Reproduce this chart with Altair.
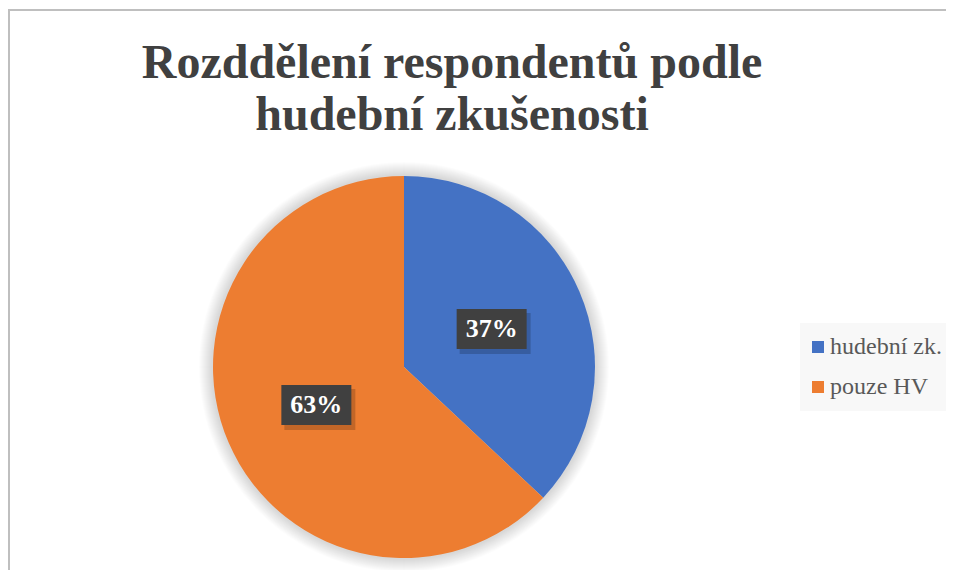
import altair as alt
import pandas as pd

categories = ["hudební zk.", "pouze HV"]
values = [37, 63]
colors = ["#4472C4", "#ED7D31"]
title_lines = ["Rozddělení respondentů podle", "hudební zkušenosti"]

SERIF = "'Liberation Serif', 'Times New Roman', Times, serif"

df = pd.DataFrame({"kategorie": categories, "hodnota": values, "poradi": [0, 1]})

PAD_TOP = 150
CX, CY, R = 396, 209, 191
LR = 95.5
one = alt.Data(values=[{"k": 0}])

# frame
frame = alt.Chart(one).mark_rect(fill=None, stroke="#bfbfbf", strokeWidth=2).encode(
    x=alt.value(1), x2=alt.value(1200), y=alt.value(2 - PAD_TOP), y2=alt.value(1200)
)

# soft glow around the pie
halo = []
for k in range(14, 1, -1):
    halo.append(
        alt.Chart(one)
        .mark_arc(outerRadius=R + k, theta=0, theta2=6.2832, fill="#000000", fillOpacity=0.013)
        .encode(x=alt.value(CX), y=alt.value(CY))
    )

base = alt.Chart(df)

pie = base.mark_arc(outerRadius=R, strokeWidth=0).encode(
    theta=alt.Theta("hodnota:Q", stack=True),
    order=alt.Order("poradi:Q"),
    color=alt.Color(
        "kategorie:N",
        scale=alt.Scale(domain=categories, range=colors),
        legend=alt.Legend(
            title=None,
            orient="none",
            legendX=792,
            legendY=165,
            padding=12,
            fillColor="#f8f8f8",
            symbolType="square",
            symbolSize=144,
            symbolStrokeWidth=0,
            symbolOffset=-6,
            labelFont=SERIF,
            labelFontSize=24,
            labelColor="#595959",
            labelOffset=0,
            rowPadding=16,
        ),
    ),
    x=alt.value(CX),
    y=alt.value(CY),
)

lab = base.transform_joinaggregate(total="sum(hodnota)").transform_window(
    cum="sum(hodnota)", sort=[alt.SortField("poradi")]
).transform_calculate(
    mid="(datum.cum - datum.hodnota / 2) / datum.total * 2 * PI",
    label="format(datum.hodnota / datum.total, '.0%')",
).transform_calculate(
    lx=f"{CX} + {LR} * sin(datum.mid)",
    ly=f"{CY} - {LR} * cos(datum.mid)",
).transform_calculate(
    x1="datum.lx - 35", x2="datum.lx + 35", y1="datum.ly - 20", y2="datum.ly + 20",
    sx1="datum.lx - 32", sx2="datum.lx + 39", sy1="datum.ly - 16", sy2="datum.ly + 25",
)

shadow = lab.mark_rect(fill="#000000", opacity=0.18).encode(
    x=alt.X("sx1:Q", scale=None), x2="sx2:Q",
    y=alt.Y("sy1:Q", scale=None), y2="sy2:Q",
)
box = lab.mark_rect(fill="#404040").encode(
    x=alt.X("x1:Q", scale=None), x2="x2:Q",
    y=alt.Y("y1:Q", scale=None), y2="y2:Q",
)
txt = lab.mark_text(
    font=SERIF, fontSize=26, fontWeight="bold", color="white",
    align="center", baseline="middle",
).encode(
    x=alt.X("lx:Q", scale=None), y=alt.Y("ly:Q", scale=None), text="label:N"
)

chart = alt.layer(frame, *halo, pie, shadow, box, txt).properties(
    width=938,
    height=412,
    background="white",
    autosize=alt.AutoSizeParams(type="none"),
    padding={"left": 0, "top": PAD_TOP, "right": 0, "bottom": 0},
    title=alt.TitleParams(
        text=title_lines,
        font=SERIF,
        fontSize=48,
        fontWeight="bold",
        color="#404040",
        anchor="middle",
        frame="group",
        dx=-25,
        offset=-131,
        lineHeight=52,
    ),
).configure_view(strokeWidth=0, stroke="transparent")

chart.save("out.html", embed_options={"renderer": "svg", "actions": False})
